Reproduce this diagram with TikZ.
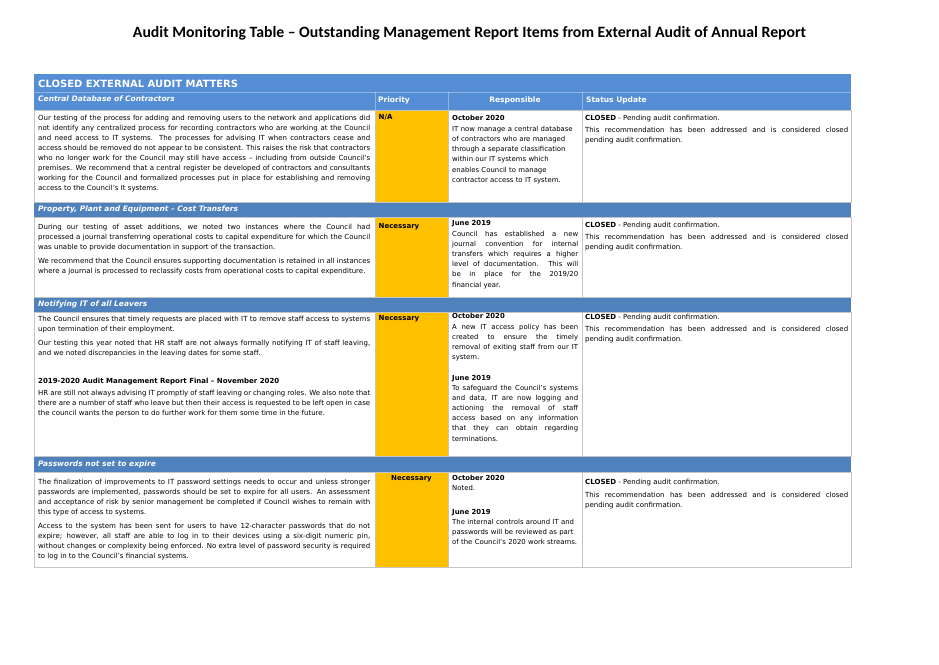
\documentclass[tikz,border=0pt]{standalone}
\usepackage{fontspec}
\setmainfont{DejaVu Sans}
\newfontfamily\titlefont{Carlito}
\usepackage{tikz}
\usetikzlibrary{positioning}
\usepackage{xcolor}
\setlength{\parindent}{0pt}
\hyphenpenalty=10000
\exhyphenpenalty=10000

\definecolor{hdrblue}{RGB}{85,142,213}
\definecolor{bandblue}{RGB}{79,129,189}
\definecolor{prioorange}{RGB}{255,192,0}
\definecolor{gridgrey}{RGB}{196,196,196}

\newcommand{\pgap}{\par\vspace{4pt}}
\newcommand{\lb}{\linebreak}

\tikzset{
  cell/.style={anchor=north west, inner sep=0pt, align=justify, font=\fontsize{7}{10.1}\selectfont},
  desccell/.style={cell, text width=332pt},
  respcell/.style={cell, text width=126pt, font=\fontsize{6.9}{10.1}\selectfont},
  statcell/.style={cell, text width=263pt},
  priolabel/.style={anchor=north west, inner sep=0pt, font=\bfseries\fontsize{7}{10.1}\selectfont},
  bandlabel/.style={anchor=west, inner sep=0pt, text=white, font=\bfseries\itshape\fontsize{7.5}{9}\selectfont},
  headlabel/.style={anchor=west, inner sep=0pt, text=white, font=\bfseries\fontsize{7.5}{9}\selectfont},
  gridline/.style={draw=gridgrey, line width=0.6pt},
  hdrsep/.style={draw=white, draw opacity=0.35, line width=0.6pt},
}

\begin{document}
\begin{tikzpicture}[x=1pt,y=-1pt]
  \useasboundingbox (0,0) rectangle (939,664);
  \node[anchor=base, inner sep=0pt, font=\titlefont\bfseries\fontsize{15.75}{18}\selectfont] (title) at (469.5,37)
    {Audit Monitoring Table – Outstanding Management Report Items from External Audit of Annual Report};

  % blue header and section bands
  \fill[hdrblue] (34,74) rectangle (851,110);
  \fill[bandblue] (34,202) rectangle (851,217);
  \fill[bandblue] (34,297) rectangle (851,312);
  \fill[bandblue] (34,456) rectangle (851,472.5);
  \draw[hdrsep] (34,92) -- (851,92);
  \draw[hdrsep] (375,92) -- (375,110) (448,92) -- (448,110) (582,92) -- (582,110);

  % priority column fills
  \fill[prioorange] (375,110) rectangle (448,202);
  \fill[prioorange] (375,217) rectangle (448,297);
  \fill[prioorange] (375,312) rectangle (448,456);
  \fill[prioorange] (375,472.5) rectangle (448,567);

  % cell borders of the white rows
  \draw[gridline] (34,110) rectangle (851,202) (375,110) -- (375,202) (448,110) -- (448,202) (582,110) -- (582,202);
  \draw[gridline] (34,217) rectangle (851,297) (375,217) -- (375,297) (448,217) -- (448,297) (582,217) -- (582,297);
  \draw[gridline] (34,312) rectangle (851,456) (375,312) -- (375,456) (448,312) -- (448,456) (582,312) -- (582,456);
  \draw[gridline] (34,472.5) rectangle (851,567) (375,472.5) -- (375,567) (448,472.5) -- (448,567) (582,472.5) -- (582,567);

  % header texts
  \node[anchor=west, inner sep=0pt, text=white, font=\bfseries\fontsize{10}{11}\selectfont] (closed) at (38,83.5) {CLOSED EXTERNAL AUDIT MATTERS};
  \node[bandlabel] (band1) at (38,98.5) {Central Database of Contractors};
  \node[headlabel] (hprio) at (378,100) {Priority};
  \node[headlabel, anchor=center] (hresp) at (515,100) {Responsible};
  \node[headlabel] (hstat) at (586,100) {Status Update};
  \node[bandlabel] (band2) at (38,209.5) {Property, Plant and Equipment – Cost Transfers};
  \node[bandlabel] (band3) at (38,304.5) {Notifying IT of all Leavers};
  \node[bandlabel] (band4) at (38,464) {Passwords not set to expire};

  % row 1
  \node[desccell] (r1desc) at (38,114.6) {Our testing of the process for adding and removing users to the network and applications did\lb{} not identify any centralized process for recording contractors who are working at the Council\lb{} and need access to IT systems. The processes for advising IT when contractors cease and\lb{} access should be removed do not appear to be consistent. This raises the risk that contractors\lb{} who no longer work for the Council may still have access – including from outside Council’s\lb{} premises. We recommend that a central register be developed of contractors and consultants\lb{} working for the Council and formalized processes put in place for establishing and removing\lb{} access to the Council’s It systems.};
  \node[priolabel] (r1prio) at (378.5,114.6) {N/A};
  \node[respcell, align=left] (r1resp) at (452,114.6) {\textbf{October 2020}\par\vspace{1.5pt}IT now manage a central database\newline of contractors who are managed\newline through a separate classification\newline within our IT systems which\newline enables Council to manage\newline contractor access to IT system.};
  \node[statcell] (r1stat) at (585,114.6) {\textbf{CLOSED} - Pending audit confirmation.\par\vspace{2.5pt}This recommendation has been addressed and is considered closed\lb{} pending audit confirmation.};

  % row 2
  \node[desccell] (r2desc) at (38,223.6) {During our testing of asset additions, we noted two instances where the Council had\lb{} processed a journal transferring operational costs to capital expenditure for which the Council\lb{} was unable to provide documentation in support of the transaction.\pgap We recommend that the Council ensures supporting documentation is retained in all instances\lb{} where a journal is processed to reclassify costs from operational costs to capital expenditure.};
  \node[priolabel] (r2prio) at (378.5,223.6) {Necessary};
  \node[respcell] (r2resp) at (452,220.6) {\textbf{June 2019}\par\vspace{0.5pt}Council has established a new\lb{} journal convention for internal\lb{} transfers which requires a higher\lb{} level of documentation. This will\lb{} be in place for the 2019/20\lb{} financial year.};
  \node[statcell] (r2stat) at (585,221.6) {\textbf{CLOSED} - Pending audit confirmation.\par\vspace{2.5pt}This recommendation has been addressed and is considered closed\lb{} pending audit confirmation.};

  % row 3
  \node[desccell] (r3desc) at (38,315.6) {The Council ensures that timely requests are placed with IT to remove staff access to systems\lb{} upon termination of their employment.\pgap Our testing this year noted that HR staff are not always formally notifying IT of staff leaving,\lb{} and we noted discrepancies in the leaving dates for some staff.\par\vspace{18pt}\textbf{2019-2020 Audit Management Report Final – November 2020}\par\vspace{2pt}HR are still not always advising IT promptly of staff leaving or changing roles. We also note that\lb{} there are a number of staff who leave but then their access is requested to be left open in case\lb{} the council wants the person to do further work for them some time in the future.};
  \node[priolabel] (r3prio) at (378.5,315.6) {Necessary};
  \node[respcell] (r3resp) at (452,313) {\textbf{October 2020}\par\vspace{0.5pt}A new IT access policy has been\lb{} created to ensure the timely\lb{} removal of exiting staff from our IT\lb{} system.\par\vspace{11pt}\textbf{June 2019}\par To safeguard the Council’s systems\lb{} and data, IT are now logging and\lb{} actioning the removal of staff\lb{} access based on any information\lb{} that they can obtain regarding\lb{} terminations.};
  \node[statcell] (r3stat) at (585,313.6) {\textbf{CLOSED} - Pending audit confirmation.\par\vspace{2.5pt}This recommendation has been addressed and is considered closed\lb{} pending audit confirmation.};

  % row 4
  \node[desccell] (r4desc) at (38,478.6) {The finalization of improvements to IT password settings needs to occur and unless stronger\lb{} passwords are implemented, passwords should be set to expire for all users. An assessment\lb{} and acceptance of risk by senior management be completed if Council wishes to remain with\lb{} this type of access to systems.\pgap Access to the system has been sent for users to have 12-character passwords that do not\lb{} expire; however, all staff are able to log in to their devices using a six-digit numeric pin,\lb{} without changes or complexity being enforced. No extra level of password security is required\lb{} to log in to the Council’s financial systems.};
  \node[priolabel, anchor=north] (r4prio) at (411.5,475) {Necessary};
  \node[respcell, align=left] (r4resp) at (452,474.6) {\textbf{October 2020}\par Noted.\par\vspace{14pt}\textbf{June 2019}\par The internal controls around IT and\newline passwords will be reviewed as part\newline of the Council’s 2020 work streams.};
  \node[statcell] (r4stat) at (585,479) {\textbf{CLOSED} - Pending audit confirmation.\par\vspace{2.5pt}This recommendation has been addressed and is considered closed\lb{} pending audit confirmation.};
\end{tikzpicture}
\end{document}
